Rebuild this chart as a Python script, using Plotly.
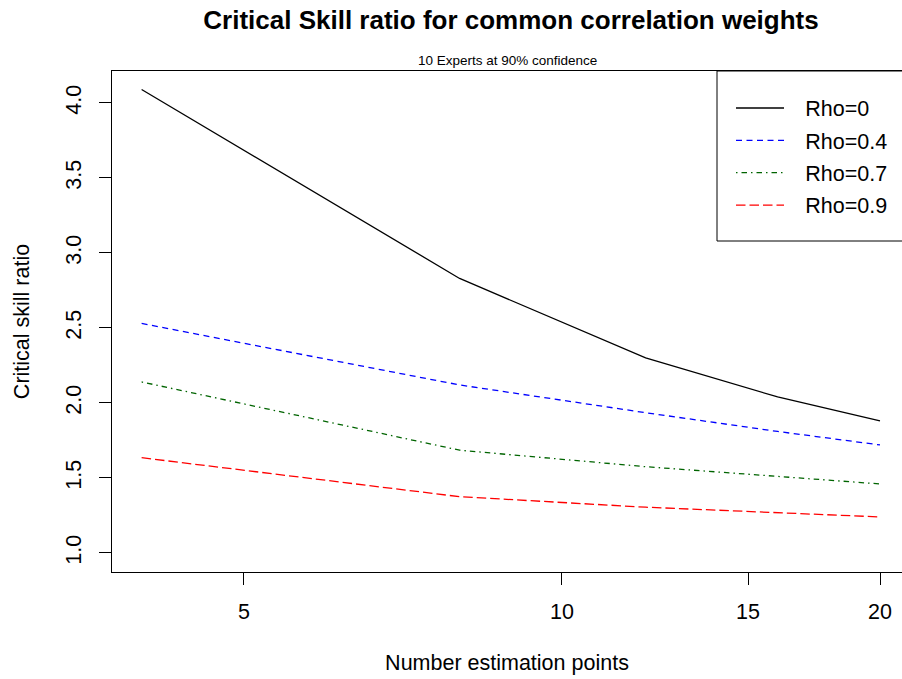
import plotly.graph_objects as go

# Data
n_points = [4, 8, 12, 16, 20]
rho_0 = [4.09, 2.83, 2.30, 2.04, 1.88]
rho_04 = [2.53, 2.12, 1.935, 1.81, 1.72]
rho_07 = [2.14, 1.685, 1.575, 1.51, 1.46]
rho_09 = [1.635, 1.375, 1.305, 1.27, 1.24]
series_names = ["Rho=0", "Rho=0.4", "Rho=0.7", "Rho=0.9"]
x_ticks = [5, 10, 15, 20]
y_ticks = [1.0, 1.5, 2.0, 2.5, 3.0, 3.5, 4.0]

FONT = "Liberation Sans, Arial, Helvetica, sans-serif"
W, H = 902, 679
L, T, B = 112, 71, 107
plot_w = W - L
plot_h = H - T - B

styles = [
    dict(color="#000000", dash="solid"),
    dict(color="#0000FF", dash="6px,4.5px"),
    dict(color="#006400", dash="1.5px,4px,5.5px,4px"),
    dict(color="#FF0000", dash="9.5px,4px"),
]

fig = go.Figure()
for i, (name, ys) in enumerate(zip(series_names, [rho_0, rho_04, rho_07, rho_09])):
    fig.add_trace(go.Scatter(
        x=n_points, y=ys, mode="lines", name="\u00a0\u00a0\u2009" + name, legendgroup=name,
        line=dict(color=styles[i]["color"], dash=styles[i]["dash"], width=1.3),
    ))

def px_x(p):
    return (p - L) / plot_w

def px_y(p):
    return (H - B - p) / plot_h

fig.update_layout(
    width=W, height=H,
    margin=dict(l=L, r=0, t=T, b=B, pad=0),
    paper_bgcolor="white", plot_bgcolor="white",
    font=dict(family=FONT, size=21.5, color="black"),
    title=dict(text="Critical Skill ratio for common correlation weights",
               font=dict(family=FONT, size=26, weight="bold", color="black"),
               x=511 / W, xanchor="center", xref="container",
               y=1 - 20 / H, yanchor="middle", yref="container"),
    xaxis=dict(type="log", range=[0.57402, 1.32186], automargin=False,
               tickmode="array", tickvals=x_ticks, ticktext=[str(v) for v in x_ticks],
               ticks="outside", ticklen=12, tickwidth=1, tickcolor="black",
               showline=True, linecolor="black", linewidth=1, mirror=True,
               showgrid=False, zeroline=False,
               tickfont=dict(size=21.5),
               ticklabelstandoff=8,
               title=dict(text="Number estimation points", standoff=32,
                          font=dict(size=21.5))),
    yaxis=dict(range=[0.873, 4.213], automargin=False,
               tickmode="array", tickvals=y_ticks, ticktext=[f"{v:.1f}" for v in y_ticks],
               ticks="outside", ticklen=12, tickwidth=1, tickcolor="black",
               showline=True, linecolor="black", linewidth=1,
               showgrid=False, zeroline=False, tickangle=-90,
               tickfont=dict(size=21.5),
               ticklabelstandoff=9,
               title=dict(text="Critical skill ratio", standoff=26,
                          font=dict(size=21.5))),
    legend=dict(x=px_x(731), y=px_y(87.5), xanchor="left", yanchor="top",
                bgcolor="rgba(0,0,0,0)", borderwidth=0,
                font=dict(size=21.5), tracegroupgap=1.4, itemwidth=48),
    annotations=[dict(text="10 Experts at 90% confidence", xref="paper", yref="paper",
                      x=0.5, y=px_y(60), xanchor="center", yanchor="middle",
                      showarrow=False, font=dict(size=13.5))],
    shapes=[dict(type="rect", xref="paper", yref="paper",
                 x0=px_x(717), x1=1.05, y0=px_y(241), y1=1,
                 line=dict(color="black", width=1), fillcolor="rgba(0,0,0,0)")],
)

fig.write_html("out.html", config={"displayModeBar": False},
               post_script="document.body.style.margin='0';document.body.style.overflow='hidden';")
